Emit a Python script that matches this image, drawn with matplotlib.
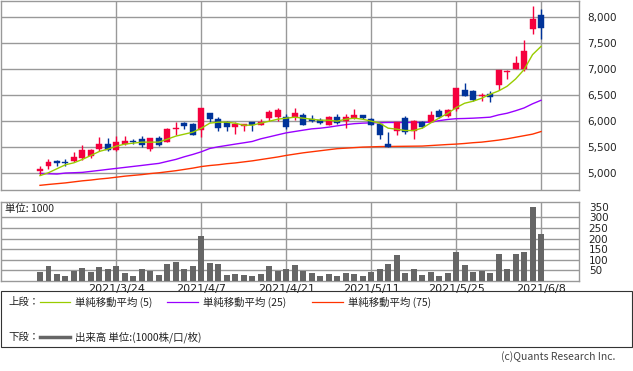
import matplotlib
matplotlib.use("Agg")
import matplotlib.pyplot as plt
from matplotlib.lines import Line2D
from matplotlib.patches import Rectangle
import numpy as np

plt.rcParams['font.family'] = ['Noto Sans CJK JP', 'DejaVu Sans']

# 営業日 (2021/3/11 - 2021/6/8)
dates = ["2021/3/11", "2021/3/12", "2021/3/15", "2021/3/16", "2021/3/17", "2021/3/18", "2021/3/19", "2021/3/22", "2021/3/23", "2021/3/24",
         "2021/3/25", "2021/3/26", "2021/3/29", "2021/3/30", "2021/3/31", "2021/4/1", "2021/4/2", "2021/4/5", "2021/4/6", "2021/4/7",
         "2021/4/8", "2021/4/9", "2021/4/12", "2021/4/13", "2021/4/14", "2021/4/15", "2021/4/16", "2021/4/19", "2021/4/20", "2021/4/21",
         "2021/4/22", "2021/4/23", "2021/4/26", "2021/4/27", "2021/4/28", "2021/4/30", "2021/5/6", "2021/5/7", "2021/5/10", "2021/5/11",
         "2021/5/12", "2021/5/13", "2021/5/14", "2021/5/17", "2021/5/18", "2021/5/19", "2021/5/20", "2021/5/21", "2021/5/24", "2021/5/25",
         "2021/5/26", "2021/5/27", "2021/5/28", "2021/5/31", "2021/6/1", "2021/6/2", "2021/6/3", "2021/6/4", "2021/6/7", "2021/6/8"]
tick_dates = ["2021/3/24", "2021/4/7", "2021/4/21", "2021/5/11", "2021/5/25", "2021/6/8"]

opens = [5040, 5135, 5230, 5205, 5230, 5290, 5330, 5462, 5558, 5442,
         5560, 5615, 5654, 5462, 5673, 5596, 5858, 5962, 5942, 5827,
         6154, 6040, 5981, 5885, 5904, 5981, 5923, 6058, 6077, 6077,
         6077, 6115, 6038, 6019, 5923, 6077, 6000, 6058, 6115, 6040,
         5942, 5558, 5808, 6058, 5808, 5981, 5981, 6192, 6096, 6231,
         6596, 6577, 6480, 6520, 6692, 6950, 7000, 7000, 7769, 8038]
highs = [5130, 5270, 5250, 5270, 5404, 5538, 5462, 5692, 5673, 5712,
         5712, 5654, 5712, 5680, 5712, 5865, 5981, 5981, 5962, 6250,
         6154, 6077, 6000, 5981, 5942, 5981, 6038, 6211, 6250, 6135,
         6250, 6154, 6115, 6058, 6096, 6135, 6135, 6230, 6115, 6058,
         5962, 5788, 5981, 6096, 6020, 6000, 6192, 6230, 6230, 6635,
         6731, 6596, 6538, 6577, 6981, 6981, 7250, 7558, 8212, 8154]
lows = [4960, 5077, 5135, 5135, 5211, 5250, 5288, 5423, 5430, 5430,
        5538, 5558, 5500, 5423, 5519, 5596, 5730, 5846, 5730, 5692,
        5980, 5808, 5808, 5750, 5808, 5808, 5923, 6000, 6000, 5846,
        6020, 5923, 5981, 5942, 5923, 5942, 5865, 6038, 6038, 5923,
        5654, 5500, 5730, 5750, 5654, 5865, 5981, 6058, 6077, 6192,
        6481, 6385, 6385, 6365, 6596, 6808, 7000, 6962, 7673, 7577]
closes = [5075, 5210, 5195, 5195, 5308, 5440, 5440, 5558, 5442, 5596,
          5615, 5600, 5538, 5673, 5540, 5846, 5865, 5904, 5730, 6250,
          6040, 5865, 5885, 5942, 5942, 5923, 5981, 6173, 6211, 5885,
          6154, 5923, 6000, 5962, 6077, 5962, 6077, 6115, 6058, 5923,
          5730, 5500, 5981, 5788, 6000, 5885, 6115, 6077, 6211, 6635,
          6481, 6404, 6500, 6470, 6981, 6965, 7115, 7346, 7962, 7788]

ma5 = [4950, 5006, 5083, 5160, 5198, 5263, 5340, 5417, 5462, 5519,
       5558, 5577, 5596, 5596, 5596, 5654, 5712, 5750, 5788, 5865,
       5962, 5981, 5981, 5960, 5923, 5923, 5962, 6000, 6038, 6058,
       6077, 6058, 6038, 6019, 6019, 6000, 6038, 6058, 6038, 6000,
       5962, 5865, 5846, 5820, 5820, 5865, 5965, 6060, 6150, 6260,
       6346, 6385, 6442, 6519, 6583, 6673, 6813, 6994, 7283, 7442]
ma25 = [4994, 4987, 4981, 5000, 5006, 5013, 5032, 5051, 5071, 5090,
        5109, 5128, 5147, 5167, 5186, 5225, 5263, 5314, 5359, 5410,
        5474, 5506, 5532, 5558, 5583, 5609, 5660, 5698, 5737, 5775,
        5801, 5827, 5852, 5865, 5885, 5910, 5933, 5952, 5962, 5968,
        5971, 5975, 5975, 5975, 5975, 5975, 5981, 6010, 6033, 6048,
        6052, 6058, 6067, 6077, 6121, 6153, 6201, 6255, 6335, 6403]
ma75 = [4763, 4780, 4795, 4810, 4830, 4850, 4865, 4885, 4900, 4920,
        4940, 4955, 4970, 4990, 5005, 5025, 5045, 5070, 5095, 5125,
        5145, 5160, 5180, 5195, 5215, 5235, 5260, 5285, 5310, 5340,
        5365, 5390, 5410, 5430, 5450, 5470, 5480, 5490, 5500, 5505,
        5510, 5512, 5514, 5516, 5518, 5520, 5530, 5540, 5550, 5558,
        5570, 5585, 5596, 5615, 5635, 5660, 5690, 5720, 5750, 5800]

volume = [42, 71, 33, 24, 49, 61, 42, 66, 57, 71,
          38, 24, 57, 47, 28, 80, 90, 57, 71, 212,
          85, 80, 28, 33, 28, 24, 33, 71, 47, 57,
          75, 47, 38, 24, 33, 24, 38, 33, 24, 42,
          57, 80, 123, 38, 57, 28, 42, 24, 38, 137,
          75, 42, 47, 38, 127, 57, 127, 137, 350, 222]

price_ticks = [5000, 5500, 6000, 6500, 7000, 7500, 8000]
vol_ticks = [50, 100, 150, 200, 250, 300, 350]

UP = '#f5003d'
DOWN = '#003399'
GRID = '#999999'

W, H = 633, 371
fig = plt.figure(figsize=(W / 100, H / 100), dpi=100)

x = np.arange(len(dates))
tick_idx = [dates.index(d) for d in tick_dates]
xlim = (-4.65, 63.47)

# 上段: ローソク足
ax = fig.add_axes([0.5 / W, 1 - 190 / H, 578.5 / W, 189.5 / H])
for p in price_ticks:
    ax.axhline(p, color=GRID, lw=1.0, zorder=0)
for i in tick_idx:
    ax.axvline(i, color=GRID, lw=1.0, zorder=0)

o = np.array(opens); c = np.array(closes)
cols = [UP if cc >= oo else DOWN for oo, cc in zip(o, c)]
ax.vlines(x, lows, highs, colors=cols, lw=1.0, zorder=3)
ax.bar(x, np.maximum(np.abs(c - o), 8), bottom=np.minimum(o, c), width=0.7,
       color=cols, edgecolor=cols, linewidth=0.3, zorder=4)
ax.plot(x, ma5, color='#99cc00', lw=1.0, zorder=5)
ax.plot(x, ma25, color='#9900ff', lw=1.0, zorder=2)
ax.plot(x, ma75, color='#ff3300', lw=1.0, zorder=2)

ax.set_xlim(*xlim)
ax.set_ylim(4673, 8327)
ax.set_xticks([])
ax.yaxis.tick_right()
ax.set_yticks(price_ticks)
ax.set_yticklabels([f"{p:,}" for p in price_ticks], fontsize=7.5, color='#222222',
                   family=['DejaVu Sans'])
ax.tick_params(axis='y', length=0, pad=6)
for s in ax.spines.values():
    s.set_color(GRID)
    s.set_linewidth(1.0)

# 下段: 出来高
axv = fig.add_axes([0.5 / W, 1 - 281 / H, 578.5 / W, 79.3 / H])
for v in vol_ticks[:-1]:
    axv.axhline(v, color=GRID, lw=1.0, zorder=0)
for i in tick_idx:
    axv.axvline(i, color=GRID, lw=1.0, zorder=0)
axv.bar(x, volume, width=0.7, color='#666666', zorder=3)
axv.set_xlim(*xlim)
axv.set_ylim(0, 373.6)
axv.yaxis.tick_right()
axv.set_yticks(vol_ticks)
axv.set_yticklabels([str(v) for v in vol_ticks], fontsize=7.5, color='#222222',
                    family=['DejaVu Sans'])
axv.tick_params(axis='y', length=0, pad=7)
axv.set_xticks(tick_idx)
axv.set_xticklabels(tick_dates, fontsize=8, color='#222222', family=['DejaVu Sans'])
axv.tick_params(axis='x', length=0, pad=2)
for s in axv.spines.values():
    s.set_color(GRID)
    s.set_linewidth(1.0)
axv.text(0.008, 0.91, "単位: 1000", transform=axv.transAxes, fontsize=7.5,
         ha='left', va='center', color='#222222')

# 凡例
fig.patches.append(Rectangle((0.5 / W, 1 - 347 / H), 631.5 / W, 56 / H, fill=False,
                             edgecolor='#333333', lw=0.8, transform=fig.transFigure))

def fx(px):
    return px / W

def fy(py):
    return 1 - py / H

row1, row2 = 302, 337
fig.text(fx(8), fy(row1), "上段：", fontsize=7.5, va='center', ha='left', color='#222222')
fig.text(fx(8), fy(row2), "下段：", fontsize=7.5, va='center', ha='left', color='#222222')
legend_items = [
    (40, 70, 75, '#99cc00', "単純移動平均 (5)"),
    (167, 198, 203, '#9900ff', "単純移動平均 (25)"),
    (312, 343, 348, '#ff3300', "単純移動平均 (75)"),
]
for x0, x1, tx, col, label in legend_items:
    fig.lines.append(Line2D([fx(x0), fx(x1)], [fy(row1), fy(row1)], color=col, lw=0.9,
                            transform=fig.transFigure))
    fig.text(fx(tx), fy(row1), label, fontsize=7.5, va='center', ha='left', color='#222222')
fig.lines.append(Line2D([fx(40), fx(70)], [fy(row2), fy(row2)], color='#666666', lw=2.5,
                        transform=fig.transFigure))
fig.text(fx(75), fy(row2), "出来高 単位:(1000株/口/枚)", fontsize=7.5, va='center', ha='left',
         color='#222222')

fig.text(fx(615), fy(357), "(c)Quants Research Inc.", fontsize=7.5, va='center', ha='right',
         color='#444444')

fig.savefig("out.png", dpi=100, facecolor='white')
